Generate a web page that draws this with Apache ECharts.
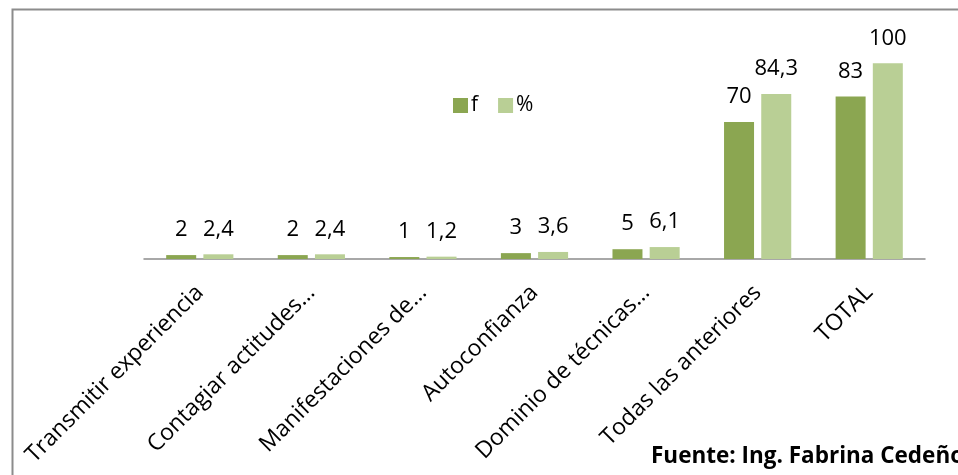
<!DOCTYPE html>
<html>
<head>
<meta charset="utf-8">
<script src="https://cdn.jsdelivr.net/npm/echarts@6/dist/echarts.min.js"></script>
<style>
html,body{margin:0;padding:0;background:#fff;}
#c{width:958px;height:475px;}
</style>
</head>
<body>
<div id="c"></div>
<script>
const categories = ["Transmitir experiencia","Contagiar actitudes…","Manifestaciones de…","Autoconfianza","Dominio de técnicas…","Todas las anteriores","TOTAL"];
const fValues = [2, 2, 1, 3, 5, 70, 83];
const pctValues = [2.4, 2.4, 1.2, 3.6, 6.1, 84.3, 100];
const seriesNames = ["f", "%"];
const sourceText = "Fuente: Ing. Fabrina Cedeño";

const FONT = "Open Sans";
const chart = echarts.init(document.getElementById('c'), null, {renderer:'canvas'});
const labelFmt = p => String(p.value).replace('.', ',');
chart.setOption({
  animation: false,
  backgroundColor: '#ffffff',
  textStyle: {fontFamily: FONT},
  grid: {left: 144, right: 33, top: 63.3, bottom: 216, containLabel: false},
  legend: {
    data: seriesNames,
    left: 453, top: 95, padding: 0,
    itemWidth: 15, itemHeight: 15, itemGap: 20,
    icon: 'rect',
    textStyle: {fontFamily: FONT, fontSize: 21, color: '#000', padding: [0,0,0,-2]}
  },
  xAxis: {
    type: 'category',
    data: categories,
    axisLine: {lineStyle: {color: '#8c8c8c', width: 1.5}},
    axisTick: {show: false},
    axisLabel: {rotate: 45, interval: 0, fontFamily: FONT, fontSize: 23, color: '#000', margin: 30}
  },
  yAxis: {
    type: 'value', min: 0, max: 100,
    show: false, splitLine: {show: false}
  },
  series: [
    {name: seriesNames[0], type: 'bar', data: fValues, barWidth: 30, barGap: '24%',
     itemStyle: {color: '#8BA651'},
     label: {show: true, position: 'top', distance: 14, formatter: labelFmt, fontFamily: FONT, fontSize: 22, color: '#000'}},
    {name: seriesNames[1], type: 'bar', data: pctValues, barWidth: 30, barGap: '24%',
     itemStyle: {color: '#B9CF95'},
     label: {show: true, position: 'top', distance: 14, formatter: labelFmt, fontFamily: FONT, fontSize: 22, color: '#000'}}
  ],
  graphic: [
    {type: 'rect', left: 10, top: 7, shape: {x: 0, y: 0, width: 1000, height: 520},
     style: {fill: 'none', stroke: '#8c8c8c', lineWidth: 2}, silent: true},
    {type: 'text', left: 651, top: 445,
     style: {text: sourceText, fontFamily: FONT, fontWeight: 'bold', fontSize: 22.5, fill: '#000'}}
  ]
});
</script>
</body>
</html>
